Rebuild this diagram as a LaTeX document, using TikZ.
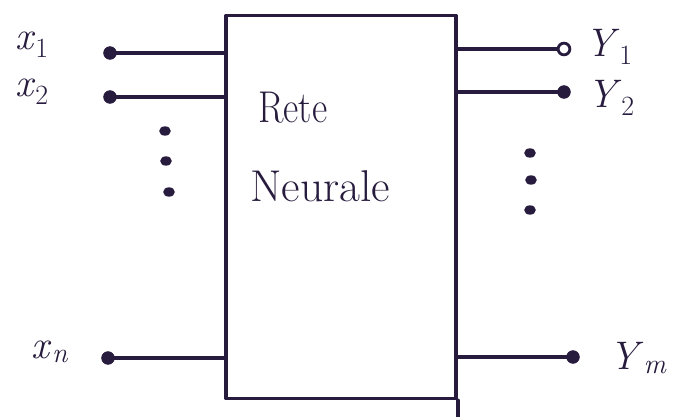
\documentclass[tikz,border=0pt]{standalone}
\usetikzlibrary{shapes.geometric}
\definecolor{ink}{RGB}{40,28,62}
\newcommand{\lab}[2]{\textit{#1}\textsubscript{#2}}
\begin{document}
\begin{tikzpicture}[x=0.03cm,y=-0.03cm,
  ink/.style={draw=ink, line width=3pt, line cap=round, line join=round},
  term/.style={circle, fill=ink, draw=ink, inner sep=0pt, minimum size=11pt},
  oterm/.style={circle, fill=white, draw=ink, line width=2.4pt, inner sep=0pt, minimum size=10pt},
  lbl/.style={font=\fontsize{34}{40}\selectfont, text=ink, inner sep=0pt},
  dotm/.style={ellipse, fill=ink, inner sep=0pt, minimum width=10pt, minimum height=8pt}]
\useasboundingbox[fill=white] (0,0) rectangle (675,416);
\node[ink, rectangle, inner sep=0pt, minimum width=230*0.03cm, minimum height=383*0.03cm] (box) at (341,207) {};
\draw[ink] (box.south east) -- ++(0,18);
\node[lbl, align=left, font=\fontsize{38}{68}\selectfont] (title) at (320,147)
  {\hspace*{7pt}\scalebox{0.84}[1]{Rete}\\\scalebox{1.02}[1]{Neurale}};
% inputs
\node[term] (i1) at (110,53) {};
\node[term] (i2) at (110,97) {};
\node[term] (in) at (108,358) {};
\draw[ink] (i1) -- (i1 -| box.west);
\draw[ink] (i2) -- (i2 -| box.west);
\draw[ink] (in) -- (in -| box.west);
\node[lbl] (lx1) at (32,45) {\lab{x}{1}};
\node[lbl] (lx2) at (32,92) {\lab{x}{2}};
\node[lbl] (lxn) at (50,352) {\lab{x}{\itshape n}};
\node[dotm] (d1) at (165,131) {};
\node[dotm] (d2) at (166,161) {};
\node[dotm] (d3) at (169,192) {};
% outputs
\node[oterm] (o1) at (564,49) {};
\node[term] (o2) at (564,92) {};
\node[term] (om) at (573,357) {};
\draw[ink] (o1 -| box.east) -- (o1);
\draw[ink] (o2 -| box.east) -- (o2);
\draw[ink] (om -| box.east) -- (om);
\node[lbl] (ly1) at (609,47) {\lab{Y}{1}};
\node[lbl] (ly2) at (611,98) {\lab{Y}{2}};
\node[lbl] (lym) at (638,358) {\lab{Y}{\itshape m}};
\node[dotm] (e1) at (530,153) {};
\node[dotm] (e2) at (531,180) {};
\node[dotm] (e3) at (530,210) {};
\end{tikzpicture}
\end{document}
